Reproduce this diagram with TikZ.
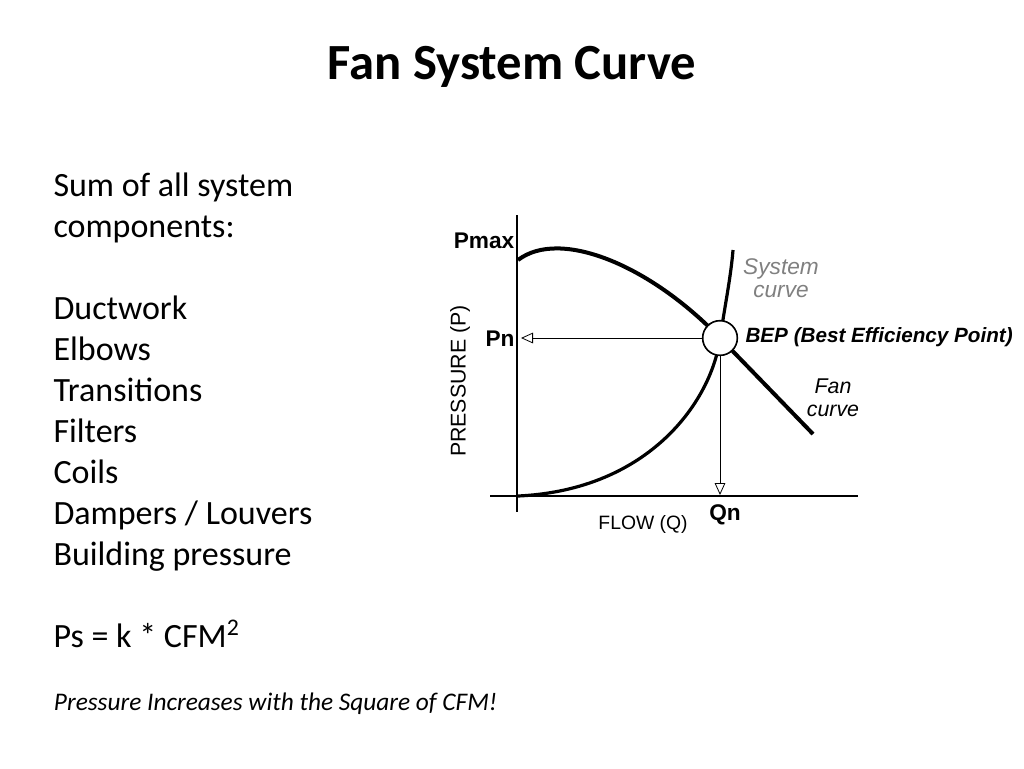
\documentclass[tikz,border=0pt]{standalone}
\usepackage{fontspec}
\setmainfont{Carlito}
\newfontfamily\chartfont{Liberation Sans}
\usetikzlibrary{arrows.meta}

\begin{document}
\begin{tikzpicture}[x=0.75pt, y=-0.75pt, thick,
  lbl/.style = {font=\chartfont\bfseries\fontsize{17}{19}\selectfont, inner sep=0pt},
  side/.style = {font=\fontsize{25.5}{30.75}\selectfont, align=left, anchor=north west, inner sep=0pt},
  tipline/.style = {-{Triangle[open, length=9pt, width=8pt]}, semithick}]
  \useasboundingbox (0,0) rectangle (1024,768);
  % title and left text
  \node[font=\bfseries\fontsize{38}{42}\selectfont] (title) at (512,67) {Fan System Curve};
  \node[side] (parts) at (53,172) {Sum of all system\\components:\\[30.75pt]Ductwork\\Elbows\\Transitions\\Filters\\Coils\\Dampers / Louvers\\Building pressure\\[30.75pt]Ps = k * CFM\textsuperscript{2}};
  \node[font=\itshape\fontsize{19}{22}\selectfont, anchor=west] (note) at (49,704) {Pressure Increases with the Square of CFM!};
  % axes
  \coordinate (ytop) at (517,215);
  \coordinate (ybot) at (517,512);
  \coordinate (xl) at (490,496);
  \coordinate (xr) at (858,496);
  \draw[line width=1.6pt] (ytop) -- (ybot);
  \draw[line width=1.6pt] (xl) -- (xr);
  % curves
  \node[draw, circle, fill=white, minimum size=26pt, inner sep=0pt] (bep) at (720,338) {};
  \draw[line width=3pt] (518,260) .. controls (560,228) and (650,265) .. (bep.center) -- (813,434);
  \draw[line width=2.4pt] (518,496) .. controls (650,490) and (712,400) .. (bep.center) .. controls (726,300) and (731,275) .. (733,250);
  \node[draw, circle, fill=white, line width=1.2pt, minimum size=26pt, inner sep=0pt] at (bep) {};
  \coordinate (pnend) at (521,338);
  \coordinate (qnend) at (720,495);
  \draw[tipline] (bep.west) -- (pnend);
  \draw[tipline] (bep.south) -- (qnend);
  % labels
  \node[lbl] (pmax) at (484,241) {Pmax};
  \node[lbl] (pn) at (500,339) {Pn};
  \node[lbl] (qn) at (725,515) {Qn};
  \node[font=\chartfont\fontsize{14.5}{16}\selectfont] (flow) at (643,524) {FLOW (Q)};
  \node[font=\chartfont\fontsize{16}{18}\selectfont, rotate=90] (press) at (460,381) {PRESSURE (P)};
  \node[font=\chartfont\itshape\fontsize{17}{17}\selectfont, text=gray, align=center] (sys) at (781,278) {System\\curve};
  \node[lbl, font=\chartfont\bfseries\itshape\fontsize{15.5}{17}\selectfont, anchor=west] (beptxt) at (745,337) {BEP (Best Efficiency Point)};
  \node[font=\chartfont\itshape\fontsize{16}{17}\selectfont, align=center] (fan) at (833,398) {Fan\\curve};
\end{tikzpicture}
\end{document}
